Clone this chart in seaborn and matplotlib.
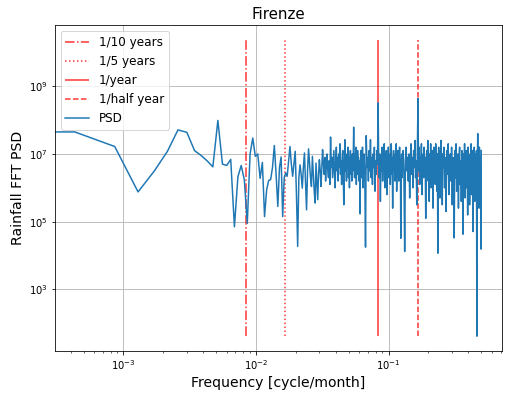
import numpy as np
import pandas as pd
import matplotlib
matplotlib.use("Agg")
import matplotlib.pyplot as plt
from matplotlib import ticker
import seaborn as sns

# monthly rainfall record length (months) -> FFT bin k is k / n_months cycle/month
n_months = 2328

psd_bins = [
    0, 1, 2, 3, 4, 5, 6, 7, 8, 9,
    10, 11, 12, 13, 14, 15, 16, 17, 18, 19,
    20, 21, 22, 23, 24, 25, 26, 27, 28, 29,
    30, 31, 32, 33, 34, 35, 36, 37, 38, 39,
    40, 41, 42, 43, 44, 45, 46, 47, 48, 49,
    50, 51, 52, 53, 54, 55, 56, 57, 58, 59,
    60, 61, 62, 63, 64, 65, 66, 67, 68, 69,
    70, 71, 72, 73, 74, 75, 76, 77, 78, 79,
    80, 81, 82, 83, 84, 85, 86, 87, 88, 89,
    90, 91, 92, 93, 94, 95, 96, 97, 98, 99,
    100, 101, 102, 103, 104, 105, 106, 107, 108, 109,
    110, 111, 112, 113, 114, 115, 116, 117, 118, 119,
    120, 121, 122, 123, 124, 125, 126, 127, 128, 129,
    130, 131, 132, 133, 134, 135, 136, 137, 138, 139,
    140, 141, 142, 143, 144, 145, 146, 147, 148, 149,
    150,
    152, 154, 156, 158, 160, 162, 164, 166, 168, 170,
    172, 174, 176, 178, 180, 182, 184, 186, 188, 190,
    192, 194, 196, 198, 200, 202, 204, 206, 208, 210,
    212, 214, 216, 218, 220, 222, 224, 226, 228, 230,
    232, 234, 236, 238, 240, 242, 244, 246, 248, 250,
    252, 254, 256, 258, 260, 262, 264, 266, 268, 270,
    272, 274, 276, 278, 280, 282, 284, 286, 288, 290,
    292, 294, 296, 298,
    300, 304, 308, 312, 316, 320, 324, 328, 332, 336,
    340, 344, 348, 352, 356, 360, 364, 368, 372, 376,
    380, 384, 388, 392, 396, 400, 404, 408, 412, 416,
    420, 424, 428, 432, 436, 440, 444, 448, 452, 456,
    460, 464, 468, 472, 476, 480, 484, 488, 492, 496,
    500, 504, 508, 512, 516, 520, 524, 528, 532, 536,
    540, 544, 548, 552, 556, 560, 564, 568, 572, 576,
    580, 584, 588, 592, 596,
    600, 608, 616, 624, 632, 640, 648, 656, 664, 672,
    680, 688, 696, 704, 712, 720, 728, 736, 744, 752,
    760, 768, 776, 784, 792, 800, 808, 816, 824, 832,
    840, 848, 856, 864, 872, 880, 888, 896, 904, 912,
    920, 928, 936, 944, 952, 960, 968, 976, 984, 992,
    1000, 1008, 1016, 1024, 1032, 1040, 1048, 1056, 1064, 1072,
    1080, 1088, 1096, 1104, 1112, 1120, 1128, 1136, 1144, 1152,
    1160, 1164,
]

# log10 of the PSD
psd_log10 = [
    10.37, 7.65, 7.22, 5.88, 6.51, 7.08, 7.71, 7.64, 7.10, 6.95,
    6.79, 6.62, 7.99, 6.70, 6.66, 6.84, 4.85, 6.33, 6.66, 6.24,
    4.95, 7.00, 7.47, 6.93, 7.00, 6.28, 6.75, 5.15, 5.94, 6.22,
    6.24, 6.60, 7.25, 6.40, 5.45, 6.60, 6.91, 5.15, 6.30, 6.44,
    6.34, 6.80, 7.22, 6.70, 6.34, 6.70, 7.08, 5.80, 4.27, 6.30,
    6.68, 6.40, 5.99, 6.60, 7.03, 6.20, 5.35, 6.50, 7.15, 6.70,
    6.30, 6.04, 6.93, 6.40, 5.90, 5.55, 6.73, 6.20, 5.65, 6.40,
    6.83, 6.50, 6.04, 6.60, 7.13, 6.73, 6.4, 6.9, 6.2, 6.7,
    7.0, 6.5, 6.3, 6.8, 6.1, 7.5, 6.6, 6.9, 6.3, 6.7,
    7.1, 6.4, 6.0, 6.8, 7.2, 6.5, 6.9, 6.2, 7.0, 6.6,
    7.3, 6.4, 6.8, 6.1, 6.9, 7.1, 6.3, 5.5, 6.7, 7.42,
    6.5, 6.8, 6.2, 7.0, 6.6, 7.2, 6.3, 6.9, 6.0, 6.7,
    7.1, 6.4, 6.9, 6.2, 7.0, 6.5, 6.8, 7.79, 6.6, 6.3,
    7.0, 6.5, 7.2, 6.1, 6.8, 6.4, 7.1, 6.6, 6.9, 6.2,
    6.8, 6.5, 5.23, 6.7, 7.1, 6.3, 6.9, 6.6, 7.2, 6.0,
    6.8,
    7.0, 6.4, 4.25, 7.54, 6.6, 6.9, 6.2, 7.1, 6.5, 7.42,
    6.3, 6.9, 6.1, 7.0, 6.6, 7.2, 5.9, 6.8, 6.4, 7.1,
    6.7, 8.51, 6.9, 6.3, 7.0, 5.6, 6.8, 6.5, 7.2, 6.2,
    6.9, 6.6, 7.3, 6.0, 6.8, 6.4, 7.1, 5.8, 6.9, 6.5,
    7.2, 6.3, 6.7, 7.0, 6.1, 6.8, 7.3, 6.4, 6.9, 5.4,
    6.7, 7.1, 6.5, 6.8, 6.2, 7.0, 6.6, 7.3, 5.9, 6.8,
    6.4, 7.1, 6.7, 6.2, 6.9, 7.2, 6.5, 6.8, 4.51, 6.7,
    7.0, 6.3, 6.9, 6.6,
    7.1, 6.4, 4.12, 6.8, 7.2, 6.5, 6.9, 6.2, 7.0, 5.7,
    6.8, 7.3, 6.4, 6.9, 6.0, 7.1, 6.6, 7.4, 6.3, 6.8,
    5.5, 7.0, 8.64, 6.5, 7.2, 6.1, 6.9, 6.6, 7.3, 5.8,
    6.8, 7.0, 6.3, 7.2, 6.5, 6.9, 5.1, 6.7, 7.1, 6.4,
    7.4, 6.2, 6.9, 5.6, 7.0, 6.6, 7.3, 6.0, 6.8, 7.1,
    6.4, 5.4, 6.9, 7.2, 6.5, 6.8, 6.1, 7.3, 6.6, 6.9,
    5.9, 7.0, 4.07, 6.8, 7.2, 6.4, 6.9, 5.7, 7.1, 6.5,
    7.4, 6.2, 6.8, 5.5, 7.0,
    6.6, 7.2, 6.0, 6.9, 5.3, 7.1, 6.4, 7.3, 5.8, 6.8,
    7.0, 6.2, 7.2, 5.5, 6.9, 6.5, 4.52, 7.1, 6.3, 7.3,
    5.9, 6.8, 7.0, 5.4, 6.9, 7.2, 6.1, 6.8, 5.6, 7.1,
    6.5, 4.63, 7.0, 6.3, 7.3, 5.7, 6.9, 7.1, 6.0, 6.8,
    5.2, 7.2, 6.4, 6.9, 5.5, 7.0, 6.2, 7.3, 5.8, 6.8,
    7.1, 4.71, 6.9, 6.3, 7.2, 5.6, 6.8, 7.0, 5.9, 7.1,
    1.62, 6.6, 7.6, 6.2, 6.9, 5.4, 7.2, 6.5, 6.9, 5.8,
    4.19, 7.1,
]

period_labels = ["1/10 years", "1/5 years", "1/year", "1/half year"]
period_months = [120, 60, 12, 6]
period_styles = ["-.", ":", "-", "--"]

# y axis only labels every other decade
y_ticks = [1e3, 1e5, 1e7, 1e9]

assert len(psd_bins) == len(psd_log10)

df = pd.DataFrame({
    "freq": np.array(psd_bins) / n_months,
    "psd": 10.0 ** np.array(psd_log10),
})

fig = plt.figure(figsize=(507 / 72, 400 / 72), dpi=72)
ax = fig.add_axes([0.1075, 0.1225, 0.8817, 0.815])

ymin, ymax = df["psd"].min(), df["psd"].max()
for lab, months, ls in zip(period_labels, period_months, period_styles):
    ax.vlines(1.0 / months, ymin, ymax, colors="red", linestyles=ls,
              alpha=0.8, linewidth=1.5, label=lab)

sns.lineplot(data=df, x="freq", y="psd", ax=ax, estimator=None, sort=False,
             color="#1f77b4", linewidth=1.5, label="PSD")

ax.set_xscale("log")
ax.set_yscale("log")
ax.yaxis.set_major_locator(ticker.FixedLocator(y_ticks))
ax.yaxis.set_major_formatter(ticker.LogFormatterSciNotation())
ax.yaxis.set_minor_locator(ticker.NullLocator())
ax.grid(True)
ax.set_title("Firenze", fontsize=15)
ax.set_xlabel("Frequency [cycle/month]", fontsize=14)
ax.set_ylabel("Rainfall FFT PSD", fontsize=14)
ax.tick_params(labelsize=10)
ax.legend(loc="upper left", fontsize=12)

fig.savefig("out.png", dpi=72)
